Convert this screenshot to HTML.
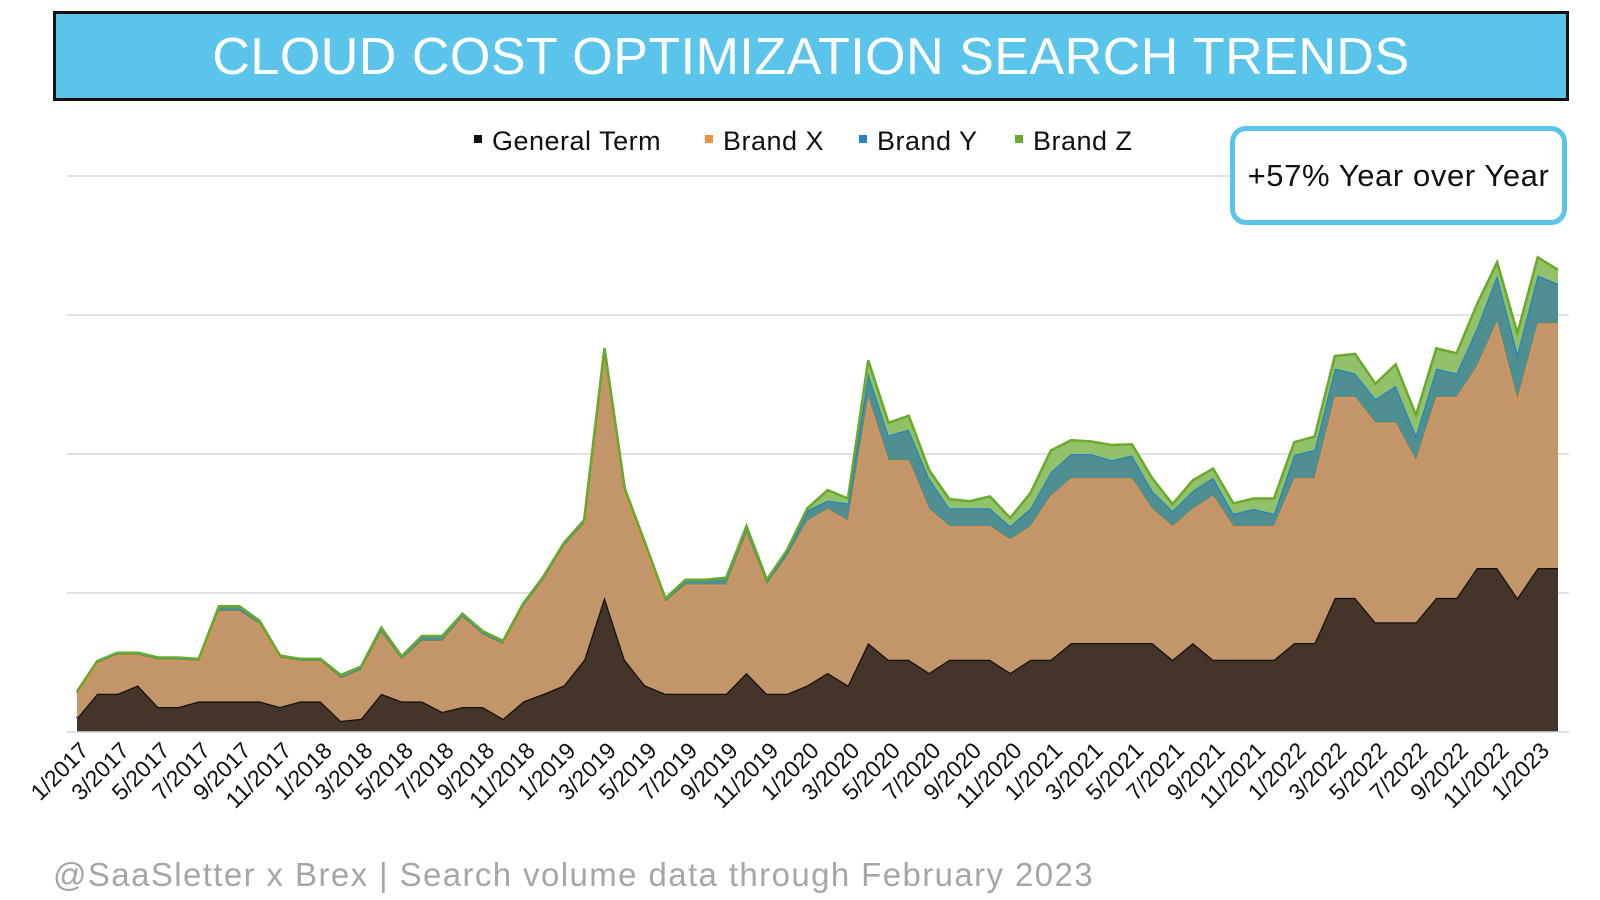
<!DOCTYPE html>
<html><head><meta charset="utf-8"><style>
body{margin:0;width:1600px;height:900px;background:#fff;font-family:"Liberation Sans",sans-serif;overflow:hidden;position:relative}
#title{position:absolute;left:53px;top:11px;width:1510px;height:84px;background:#5bc4ea;border:3px solid #111;color:#fff;font-size:52px;text-align:center;line-height:86px;letter-spacing:0.5px}
#callout{position:absolute;z-index:2;background:#fff;left:1230px;top:126px;width:327px;height:89px;border:5px solid #5bc4ea;border-radius:16px;font-size:31px;line-height:89px;text-align:center;color:#111;letter-spacing:0.6px}
#footer{position:absolute;left:53px;top:856px;font-size:33px;color:#a6a6a6;letter-spacing:1.4px}
svg{position:absolute;left:0;top:0}
</style></head><body>
<div id="title">CLOUD COST OPTIMIZATION SEARCH TRENDS</div>
<div id="callout">+57% Year over Year</div>
<div id="footer">@SaaSletter x Brex | Search volume data through February 2023</div>
<svg id="chart" width="1600" height="900"></svg>
<script>
const general=[2,5.5,5.5,6.7,3.6,3.6,4.4,4.4,4.4,4.4,3.6,4.4, 4.4,1.6,1.9,5.5,4.4,4.4,2.9,3.6,3.6,1.9,4.4,5.5, 6.7,10.4,19.4,10.4,6.7,5.5,5.5,5.5,5.5,8.5,5.5,5.5, 6.7,8.5,6.7,12.8,10.4,10.4,8.5,10.4,10.4,10.4,8.5,10.4, 10.4,12.8,12.8,12.8,12.8,12.8,10.4,12.8,10.4,10.4,10.4,10.4, 12.8,12.8,19.3,19.3,15.8,15.8,15.8,19.3,19.3,23.6,23.6,19.3, 23.6,23.6];
const totalX=[5.5,9.9,11.1,11.1,10.4,10.4,10.2,17.4,17.4,15.5,10.7,10.2, 10.2,7.7,8.9,14.3,10.4,13.1,13.1,16.5,14,12.6,18,21.9, 26.7,30,54.5,34.5,26.7,18.7,21.2,21.2,21.2,28.6,21.2,25.3, 30.4,32.1,30.4,48.2,39.1,39.1,32.1,29.6,29.6,29.6,27.7,29.6, 34,36.5,36.5,36.5,36.5,32.1,29.6,32.1,34,29.6,29.6,29.6, 36.5,36.5,48.2,48.2,44.5,44.5,39.1,48.2,48.2,52.6,59.1,47.9, 58.8,58.8];
const brandX=totalX.map((t,i)=>Math.max(0,+(t-general[i]).toFixed(2)));
const brandY=[0.3,0.3,0.3,0.3,0.3,0.3,0.3,0.7,0.7,0.5,0.3,0.3, 0.3,0.5,0.5,0.7,0.5,0.7,0.7,0.5,0.5,0.5,0.5,0.5, 0.5,0.5,0.7,0.5,0.5,0.5,0.7,0.7,1,1,0.7,0.7, 1.5,1.2,2.5,3.4,3.6,4.4,4.4,2.6,2.6,2.6,1.9,2.6, 3.4,3.5,3.5,2.6,3.3,2.6,2.2,2.6,2.6,1.8,2.5,1.8, 3.4,4.1,4.1,3.4,3.4,5.3,3.6,4.1,3.4,5.5,6.6,6.6, 6.9,5.7];
const brandZ=[0,0,0,0,0,0,0,0,0,0,0,0, 0,0,0,0,0,0,0,0,0,0,0,0, 0,0,0,0,0,0,0,0,0,0,0,0.2, 0.3,1.5,0.7,1.9,1.8,2,1.2,1.3,1,1.7,1.2,2.2, 3.1,2,1.8,2.2,1.6,1.8,1,1.5,1.3,1.5,1.5,2.2, 1.8,1.9,1.8,2.8,2.2,3.1,2.9,2.9,2.9,3.4,1.9,2.9, 2.6,2];
const yTicks=[0,20,40,60,80];
const legendNames=["General Term","Brand X","Brand Y","Brand Z"];
const legendColors=["#111","#f0913f","#2383c4","#6aaa2a"];

const svg=document.getElementById('chart'),NS="http://www.w3.org/2000/svg";
const x0=77,x1=1558,yb=732,pxPerUnit=139/20;
const n=general.length;
const xs=i=>x0+i*(x1-x0)/(n-1);
const ys=v=>yb-v*pxPerUnit;
function el(t,a){const e=document.createElementNS(NS,t);for(const k in a)e.setAttribute(k,a[k]);svg.appendChild(e);return e;}
yTicks.forEach((t,i)=>{if(t===0)return;const g=el('line',{x1:67,x2:1569,y1:ys(t),y2:ys(t),stroke:'#d9d9d9','stroke-width':1.5});

});
const series=[general,brandX,brandY,brandZ];
const fills=["#45342a","#c2956b","#4f8f92","#93c16a"];
const names=["general-term-area","brand-x-area","brand-y-area","brand-z-area"];
let base=new Array(n).fill(0);
series.forEach((s,k)=>{
  const top=base.map((b,i)=>b+s[i]);
  let d='M'+top.map((v,i)=>xs(i)+','+ys(v)).join('L');
  for(let i=n-1;i>=0;i--)d+='L'+xs(i)+','+ys(base[i]);
  d+='Z';
  const p=el('path',{d:d,fill:fills[k]});
  
  
  const l=el('polyline',{points:top.map((v,i)=>xs(i)+','+ys(v)).join(' '),fill:'none',stroke:legendColors[k],'stroke-width':2.5});
  
  
  base=top;
});
const ax=el('line',{x1:67,x2:1569,y1:yb,y2:yb,stroke:'#d9d9d9','stroke-width':1.5});


for(let i=0;i<n;i+=2){
  const m=(i%12)+1,yr=2017+Math.floor(i/12);
  const tx=xs(i)+13,ty=752;
  const t=el('text',{x:tx,y:ty,'font-size':23,'text-anchor':'end',fill:'#111',transform:`rotate(-45 ${tx} ${ty})`});
  t.textContent=m+'/'+yr;
  
  
}
const lx=[474,705,859,1015];
legendNames.forEach((nm,k)=>{
  const r=el('rect',{x:lx[k],y:135,width:8,height:8,fill:legendColors[k]});
  
  
  const t=el('text',{x:lx[k]+18,y:150,'font-size':27,fill:'#111','letter-spacing':0.5});
  t.textContent=nm;
  
  
});
</script>
</body></html>
